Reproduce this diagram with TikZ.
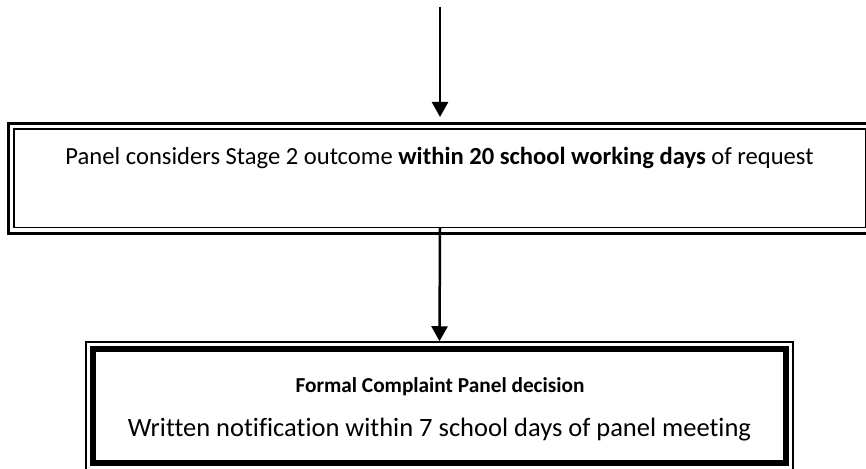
\documentclass[tikz,border=0pt]{standalone}
\usepackage{fontspec}
\setmainfont{Carlito}[Ligatures={NoCommon}]
\usetikzlibrary{arrows.meta,calc}
\begin{document}
\begin{tikzpicture}[x=1pt,y=-1pt,
  txt/.style={inner sep=0pt, anchor=base},
  arr/.style={line width=2.5pt, -{Triangle[width=16pt,length=15pt]}},
  thickbox/.style={draw, rectangle, inner sep=0pt},
]
\useasboundingbox (0,0) rectangle (866,468);
\begin{scope}
\clip (0,0) rectangle (866,468);
% top box: thick outer, thin inner
\node[thickbox, line width=3pt, minimum width=863pt, minimum height=109.5pt] (box1) at (440,178.25) {};
\node[thickbox, line width=1.5pt, minimum width=852pt, minimum height=98.5pt] (box1in) at (440,178.25) {};
% bottom box: thin outer, thick inner
\node[thickbox, line width=6pt, minimum width=693pt, minimum height=114pt] (box2) at (439.5,406) {};
\node[thickbox, line width=1.5pt, minimum width=707pt, minimum height=128pt] (box2out) at (439.5,406) {};
\end{scope}
\node[txt, font=\fontsize{24.6}{28}\selectfont] (t1) at (439.5,164) {Panel considers Stage 2 outcome \textbf{within 20 school working days} of request};
\node[txt, font=\fontsize{21.3}{25}\selectfont] (t2) at (440,392) {\textbf{Formal Complaint Panel decision}};
\node[txt, font=\fontsize{26.5}{30}\selectfont] (t3) at (439.5,436) {Written notification within 7 school days of panel meeting};
\coordinate (s1) at (440,7);
\coordinate (s2) at ($(box1.south)+(0,-7)$);
\draw[arr, shorten >=5pt] (s1) -- (box1.north);
\draw[arr] (s2) -- (box2out.north);
\end{tikzpicture}
\end{document}
